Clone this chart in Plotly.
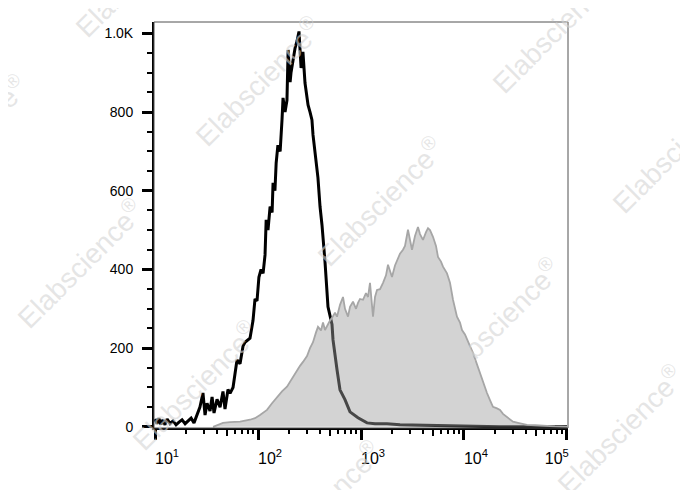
import plotly.graph_objs as go

# Контрольный образец (чёрная линия): интенсивность и число событий
control_x = [10, 10.45, 10.9, 11.4, 11.96, 12.5, 13.1, 14.0, 14.95, 16.0,
             17.1, 18.3, 19.6, 20.9, 22.4, 23.9, 25.6, 27.3, 29.2, 30.6,
             32.0, 34.2, 35.8, 37.4, 40.0, 42.8, 45.7, 47.8, 51.1, 53.5,
             57.2, 59.8, 62.5, 66.9, 71.5, 74.8, 78.2, 83.6, 89.4, 93.5,
             97.8, 102, 107, 112, 117, 120, 125, 131, 137, 140,
             146, 150, 156, 164, 171, 175, 183, 191, 196, 205,
             209, 219, 229, 239, 250, 262, 273, 286, 306, 320,
             334, 342, 366, 382, 400, 418, 447, 478, 523, 535,
             585, 625, 699, 782, 935, 1144, 1368, 1788, 2391, 3740,
             5848, 9147, 22370, 100000]
control_y = [20, 8, 22, 6, 18, 5, 20, 8, 15, 5,
             12, 18, 8, 15, 22, 10, 30, 50, 86, 30,
             60, 40, 76, 35, 70, 50, 90, 45, 95, 85,
             100, 130, 170, 160, 205, 215, 220, 225, 270, 325,
             320, 380, 400, 390, 437, 526, 500, 560, 545, 620,
             600, 670, 716, 700, 780, 836, 800, 830, 958, 876,
             900, 937, 963, 980, 1005, 912, 953, 874, 818, 800,
             780, 742, 666, 633, 560, 513, 420, 305, 260, 221,
             145, 94, 69, 38, 23, 10, 8, 8, 5, 4,
             2, 1, 0, 0]

# Окрашенный образец (серая заливка)
stained_x = [36.6, 40.9, 45.7, 53.5, 66.9, 83.6, 93.5, 104.6, 114.4, 122.3,
             136.8, 152.9, 171, 191.2, 204.5, 218.7, 239.1, 255.7, 273.4, 299.1,
             319.8, 342, 365.7, 382.4, 408.9, 427.6, 447.2, 478.2, 500, 522.9,
             559.2, 584.8, 625.4, 668.8, 699.4, 747.8, 782.2, 836.4, 894.4, 935.2,
             978, 1046, 1118, 1170, 1223, 1308, 1368, 1430, 1530, 1636,
             1749, 1829, 1912, 2000, 2138, 2236, 2391, 2557, 2674, 2859,
             2990, 3127, 3344, 3575, 3740, 3998, 4276, 4472, 4677, 5000,
             5348, 5592, 5981, 6254, 6839, 7313, 7822, 8178, 8551, 9147,
             9563, 10226, 10693, 11437, 12229, 13080, 14303, 15295, 16724, 17880,
             19120, 20920, 22370, 23920, 26150, 27970, 29900, 33440, 36570, 40890,
             48910, 61140, 76460, 100000]
stained_y = [0, 5, 10, 12, 13, 18, 22, 30, 38, 43,
             60, 76, 90, 102, 115, 127, 145, 155, 165, 180,
             200, 215, 240, 254, 245, 265, 246, 262, 270, 277,
             290, 280, 310, 330, 300, 280, 305, 318, 300, 315,
             325, 323, 340, 330, 366, 280, 330, 348, 350, 366,
             385, 412, 395, 381, 410, 424, 440, 450, 460, 501,
             470, 450, 485, 508, 490, 475, 495, 505, 500, 483,
             460, 432, 420, 407, 390, 366, 323, 300, 280, 265,
             246, 235, 221, 205, 188, 165, 140, 115, 86, 68,
             51, 47, 43, 33, 25, 18, 13, 10, 7, 5,
             4, 2, 1, 0]

# Подписи осей
x_tickvals = [10, 100, 1000, 10000, 100000]
# у последней подписи хвост из неразрывных пробелов сдвигает её влево
x_ticktext = ['10<sup>1</sup>', '10<sup>2</sup>', '10<sup>3</sup>', '10<sup>4</sup>',
              '10<sup>5</sup>' + '\u00a0' * 10]
y_tickvals = [0, 200, 400, 600, 800, 1000]
y_ticktext = ['0', '200', '400', '600', '800', '1.0K']
mid_tickvals = [50, 500, 5000, 50000]

watermark = 'Elabscience<sup>®</sup>'

# страница имеет отступ 8px, поэтому поля смещены
OFF = 8
W, H = 688, 490
L, R, T, B = 154 - OFF, 120 + OFF, 22 - OFF, 62 + OFF
x_range = [0.99, 5.01]

fig = go.Figure()

fig.add_trace(go.Scatter(x=control_x, y=control_y, mode='lines',
                         line=dict(color='black', width=3), xaxis='x', yaxis='y'))
# серая гистограмма поверх чёрной, полупрозрачная заливка
fig.add_trace(go.Scatter(x=stained_x, y=stained_y, mode='lines', fill='tozeroy',
                         fillcolor='rgba(157,157,157,0.45)',
                         line=dict(color='#a6a6a6', width=1.8), xaxis='x2', yaxis='y'))

font = dict(family='Arial, Liberation Sans', color='black')

fig.update_layout(
    width=W, height=H,
    margin=dict(l=L, r=R, t=T, b=B),
    paper_bgcolor='white', plot_bgcolor='white',
    showlegend=False,
    xaxis=dict(type='log', range=x_range, tickvals=x_tickvals, ticktext=x_ticktext,
               ticks='outside', ticklen=10, tickwidth=3, tickcolor='black',
               showline=True, linewidth=2, linecolor='black', showgrid=False, zeroline=False,
               ticklabelshift=12, ticklabelstandoff=5, automargin=False,
               tickfont=dict(size=16, **font),
               minor=dict(dtick='D1', ticks='outside', ticklen=4, tickwidth=1.5,
                          tickcolor='black', showgrid=False)),
    xaxis2=dict(type='log', range=x_range, overlaying='x', anchor='y', side='bottom',
                tickvals=mid_tickvals, ticks='outside', ticklen=7, tickwidth=2,
                tickcolor='black', showticklabels=False, showline=False,
                showgrid=False, zeroline=False),
    yaxis=dict(range=[-3, 1029], tickvals=y_tickvals, ticktext=y_ticktext,
               ticks='outside', ticklen=10, tickwidth=3, tickcolor='black',
               showline=True, linewidth=2, linecolor='black', showgrid=False, zeroline=False,
               ticklabelstandoff=6, automargin=False,
               tickfont=dict(size=14, **font),
               minor=dict(dtick=50, ticks='outside', ticklen=5, tickwidth=2,
                          tickcolor='black', showgrid=False)),
    shapes=[dict(type='rect', xref='paper', yref='paper', x0=0, x1=1, y0=0, y1=1,
                 line=dict(color='#505050', width=1), layer='above')],
)

# водяные знаки (центры в пикселях снимка)
wm_centers = [(258, 81), (555, 28), (380, 201), (675, 148), (80, 263), (138, -28),
              (-36, 139), (497, 322), (195, 385), (620, 429), (318, 505)]
pw, ph = W - L - R, H - T - B
for cx, cy in wm_centers:
    fig.add_annotation(x=(cx - OFF - L) / pw, y=(H - B - (cy - OFF)) / ph,
                       xref='paper', yref='paper',
                       text=watermark, showarrow=False, textangle=-45,
                       font=dict(family='Arial, Liberation Sans', size=28,
                                 color='rgba(212,212,212,0.6)'),
                       xanchor='center', yanchor='middle')

fig.write_html('out.html')
